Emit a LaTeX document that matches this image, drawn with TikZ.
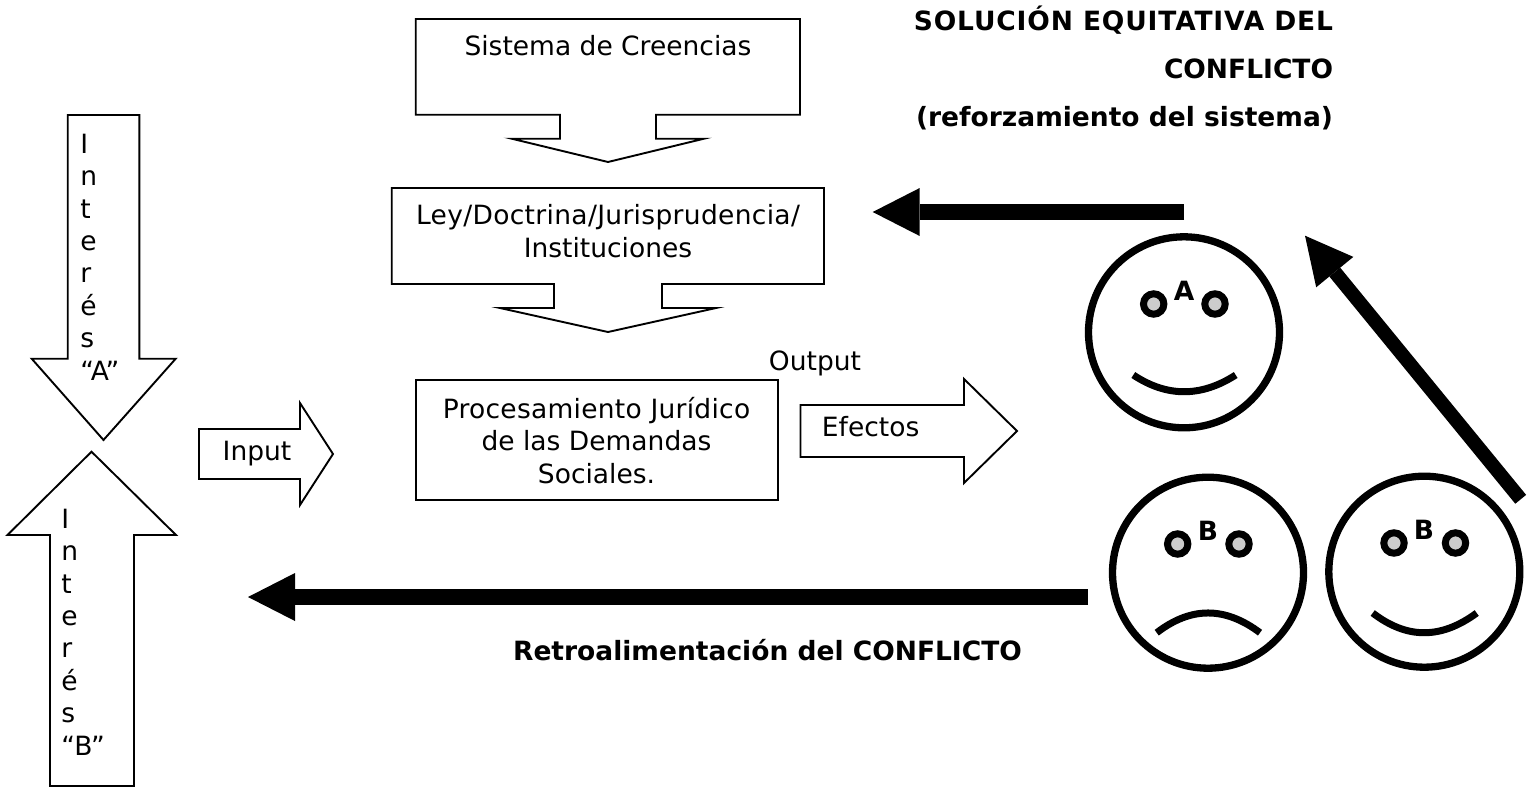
\documentclass[tikz,border=0pt]{standalone}
\usepackage{fontspec}
\setmainfont{DejaVu Sans}
\usetikzlibrary{arrows.meta}

\begin{document}
\begin{tikzpicture}[x=1pt,y=-1pt,
    line width=1.9pt,
    miter limit=20,
    txt/.style = {
      inner sep = 0pt,
      anchor = base,
      align = center,
      font = \fontsize{26.5}{32.4}\selectfont
    },
    bold/.style = {
      txt,
      font = \fontsize{26.5}{48}\selectfont\bfseries
    },
    face/.style = {
      draw,
      line width = 7.3pt,
      circle,
      inner sep = 0pt,
      minimum size = 191pt
    },
    eye/.style = {
      draw,
      line width = 7pt,
      fill = gray!40,
      circle,
      inner sep = 0pt,
      minimum size = 20.4pt
    },
    mouth/.style = {
      line width = 7pt
    },
    heavy/.style = {
      line width = 16pt,
      -{Triangle[length=47pt,width=48pt,line width=0pt]}
    }
  ]
  \useasboundingbox (0,0) rectangle (1531,787);

  % boxes with their arrows
  \draw (415.7,19) -- (800,19) -- (800,114.7) -- (656,114.7) -- (656,138.7) -- (704,138.7)
    -- (608,162) -- (511.7,138.7) -- (560,138.7) -- (560,114.7) -- (415.7,114.7) -- cycle;
  \draw (391.7,188) -- (824,188) -- (824,284) -- (662,284) -- (662,308) -- (716,308)
    -- (608,332) -- (500,308) -- (554,308) -- (554,284) -- (391.7,284) -- cycle;
  \draw (415.7,380) rectangle (778,500);

  % outline arrows
  \draw (199,429) -- (300,429) -- (300,403) -- (333,454) -- (300,505) -- (300,479) -- (199,479) -- cycle;
  \draw (800.5,405) -- (964,405) -- (964,379) -- (1017,431) -- (964,483) -- (964,457) -- (800.5,457) -- cycle;
  \draw (67.7,115) -- (139.3,115) -- (139.3,358.7) -- (175.7,358.7) -- (103.5,440)
    -- (31.7,358.7) -- (67.7,358.7) -- cycle;
  \draw (91.5,451.7) -- (176,535) -- (134,535) -- (134,786) -- (50,786) -- (50,535) -- (7.5,535) -- cycle;

  \node[txt] (creencias) at (608,55.5) {Sistema de Creencias};
  \node[txt] (ley) at (608,257) {{\addfontfeatures{LetterSpace=1.2}Ley/Doctrina/Jurisprudencia/}\\Instituciones};
  \node[txt] (procesamiento) at (596.5,483) {{\addfontfeatures{LetterSpace=1}Procesamiento Jurídico}\\de las Demandas\\Sociales.};
  \node[txt] (input) at (257,460.7) {Input};
  \node[txt,anchor=base west] (output) at (768,370) {Output};
  \node[txt,anchor=base west] (efectos) at (821,436.7) {Efectos};
  \node[txt,anchor=base west,align=left] (interesA) at (79.5,380) {I\\n\\t\\e\\r\\é\\s\\“A”};
  \node[txt,anchor=base west,align=left] (interesB) at (60.5,755) {I\\n\\t\\e\\r\\é\\s\\“B”};

  \node[bold,anchor=base east,align=right] (solucion) at (1334,126)
    {{\addfontfeatures{LetterSpace=3.2}SOLUCIÓN EQUITATIVA DEL}\\CONFLICTO\\(reforzamiento del sistema)};
  \node[bold] (retro) at (767.5,660) {Retroalimentación del CONFLICTO};

  % faces
  \node[face] (faceA) at (1184,332.3) {};
  \node[eye] (eyeAl) at (1153.7,304) {};
  \node[eye] (eyeAr) at (1215,304) {};
  \node[bold] (letterA) at (1184,300.7) {A};
  \draw[mouth] (1133.3,375) .. controls (1167,397.3) and (1201,397.3) .. (1235.7,375);

  \node[face] (faceB) at (1208,572.7) {};
  \node[eye] (eyeBl) at (1177.7,544) {};
  \node[eye] (eyeBr) at (1239,544) {};
  \node[bold] (letterB) at (1208,540) {B};
  \draw[mouth] (1156.7,632.7) .. controls (1191,606.4) and (1225,606.4) .. (1260,632.7);

  \node[face] (faceC) at (1424.3,571.7) {};
  \node[eye] (eyeCl) at (1394,543) {};
  \node[eye] (eyeCr) at (1455.5,543) {};
  \node[bold] (letterC) at (1424,539) {B};
  \draw[mouth] (1372.7,613) .. controls (1407,639.3) and (1441,639.3) .. (1476.7,613);

  % heavy arrows
  \coordinate (topTail) at (1184,212);
  \coordinate (topTip) at (872.7,212);
  \coordinate (lowTail) at (1088,597);
  \coordinate (lowTip) at (248,597);
  \coordinate (diagTail) at (1520.7,499.3);
  \coordinate (diagTip) at (1305,235.7);
  \draw[heavy] (topTail) -- (topTip);
  \draw[heavy] (lowTail) -- (lowTip);
  \draw[heavy,line width=14pt] (diagTail) -- (diagTip);
\end{tikzpicture}
\end{document}
